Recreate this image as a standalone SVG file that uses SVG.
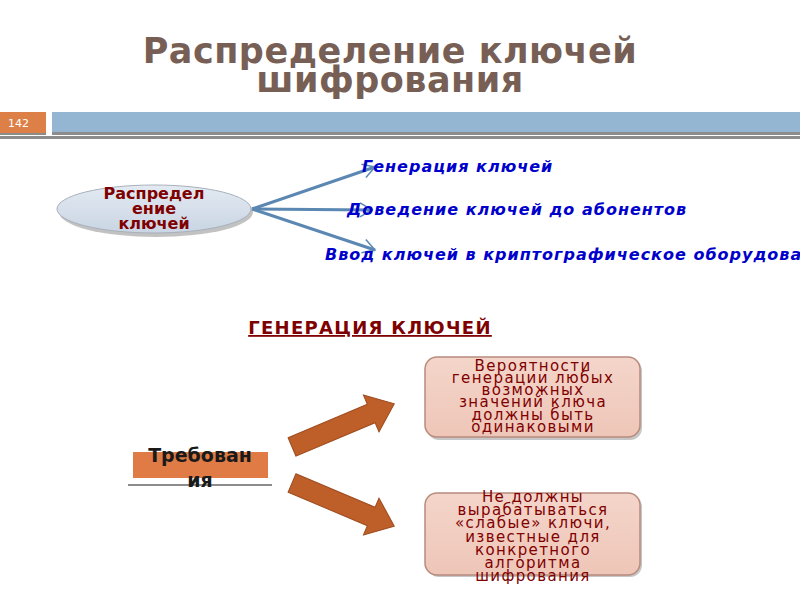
<svg xmlns="http://www.w3.org/2000/svg" width="800" height="600" viewBox="0 0 800 600">
<defs>
<style>
.title{font-family:"DejaVu Sans",sans-serif;font-weight:bold;font-size:35px;letter-spacing:0.5px;fill:#775F55;text-anchor:middle}
.blue{font-family:"DejaVu Sans",sans-serif;font-weight:bold;font-style:italic;font-size:16px;letter-spacing:1px;fill:#0000CC}
.red{font-family:"DejaVu Sans",sans-serif;font-weight:bold;fill:#7F0000;text-anchor:middle}
.box{font-family:"DejaVu Sans",sans-serif;font-size:15px;letter-spacing:1.4px;fill:#800000;text-anchor:middle}
.conn{stroke:#5B87B3;stroke-width:3;fill:none}
.bigarrow{fill:#BE5E28;stroke:#9C4B1F;stroke-width:1}
.rbox{fill:url(#pink);stroke:#B88A7C;stroke-width:1.5}
</style>
<linearGradient id="pink" x1="0" y1="0" x2="0" y2="1">
<stop offset="0" stop-color="#F4D5CA"/><stop offset="1" stop-color="#EEC6B8"/>
</linearGradient>
<linearGradient id="ell" x1="0" y1="0" x2="0" y2="1">
<stop offset="0" stop-color="#E3EAF2"/><stop offset="1" stop-color="#C9D5E3"/>
</linearGradient>
<marker id="chev" markerUnits="userSpaceOnUse" markerWidth="20" markerHeight="20" refX="14" refY="8" orient="auto">
<path d="M2,1 L14,8 L2,15" fill="none" stroke="#5B87B3" stroke-width="1.5"/>
</marker>
</defs>

<g id="title">
<text class="title" x="390" y="63">Распределение ключей</text>
<text class="title" x="390" y="92">шифрования</text>
</g>

<g id="header">
<rect x="0" y="112" width="46" height="21" fill="#DD8047"/>
<rect x="0" y="133" width="46" height="2" fill="#8C8C8C"/>
<text x="8" y="127" font-family="'DejaVu Sans',sans-serif" font-size="11" fill="#FFFFFF">142</text>
<rect x="52" y="112" width="748" height="20" fill="#94B6D2"/>
<rect x="52" y="132" width="748" height="3" fill="#8C8C8C"/>
<rect x="0" y="136" width="800" height="3" fill="#8C8C8C"/>
</g>

<g id="connectors">
<line class="conn" x1="252" y1="209" x2="375" y2="167" marker-end="url(#chev)"/>
<line class="conn" x1="252" y1="209" x2="372" y2="210" marker-end="url(#chev)"/>
<line class="conn" x1="252" y1="209" x2="375" y2="250" marker-end="url(#chev)"/>
</g>

<g id="node-distribution">
<ellipse cx="156" cy="212" rx="97" ry="25" fill="#9A9A9A" opacity="0.6"/>
<ellipse cx="154" cy="209" rx="97" ry="24" fill="url(#ell)" stroke="#A8B0BA" stroke-width="1"/>
<text class="red" font-size="16" x="154" y="199">Распредел</text>
<text class="red" font-size="16" x="154" y="214">ение</text>
<text class="red" font-size="16" x="154" y="229">ключей</text>
</g>

<g id="node-gen">
<text class="blue" x="362" y="172">Генерация ключей</text>
</g>
<g id="node-deliv">
<text class="blue" x="347" y="215">Доведение ключей до абонентов</text>
</g>
<g id="node-input">
<text class="blue" x="325" y="260">Ввод ключей в криптографическое оборудование</text>
</g>

<g id="heading">
<text class="red" font-size="18" letter-spacing="1.3" x="370" y="334" text-decoration="underline">ГЕНЕРАЦИЯ КЛЮЧЕЙ</text>
</g>

<g id="node-req">
<rect x="133" y="452" width="135" height="26" fill="#E07B45"/>
<line x1="128" y1="485" x2="272" y2="485" stroke="#8C8C8C" stroke-width="2"/>
<text x="200" y="462" font-family="'DejaVu Sans',sans-serif" font-weight="bold" font-size="19" fill="#1A1A1A" text-anchor="middle">Требован</text>
<text x="200" y="487" font-family="'DejaVu Sans',sans-serif" font-weight="bold" font-size="19" fill="#1A1A1A" text-anchor="middle">ия</text>
</g>

<g id="arrows">
<path class="bigarrow" transform="translate(292,447) rotate(-22.9)" d="M0,-10 L86,-10 L86,-20 L111,0 L86,20 L86,10 L0,10 Z"/>
<path class="bigarrow" transform="translate(292,483) rotate(22.9)" d="M0,-10 L86,-10 L86,-20 L111,0 L86,20 L86,10 L0,10 Z"/>
</g>

<g id="node-prob">
<rect x="427" y="359" width="215" height="81" rx="12" fill="#A0A0A0" opacity="0.6"/>
<rect class="rbox" x="425" y="357" width="215" height="80" rx="12"/>
<text class="box" x="533" y="371">Вероятности</text>
<text class="box" x="533" y="383">генерации любых</text>
<text class="box" x="533" y="395">возможных</text>
<text class="box" x="533" y="407">значений ключа</text>
<text class="box" x="533" y="420">должны быть</text>
<text class="box" x="533" y="432">одинаковыми</text>
</g>

<g id="node-weak">
<rect x="427" y="495" width="215" height="82" rx="12" fill="#A0A0A0" opacity="0.6"/>
<rect class="rbox" x="425" y="493" width="215" height="82" rx="12"/>
<text class="box" x="533" y="502">Не должны</text>
<text class="box" x="533" y="515">вырабатываться</text>
<text class="box" x="533" y="528">«слабые» ключи,</text>
<text class="box" x="533" y="542">известные для</text>
<text class="box" x="533" y="555">конкретного</text>
<text class="box" x="533" y="568">алгоритма</text>
<text class="box" x="533" y="581">шифрования</text>
</g>
</svg>
